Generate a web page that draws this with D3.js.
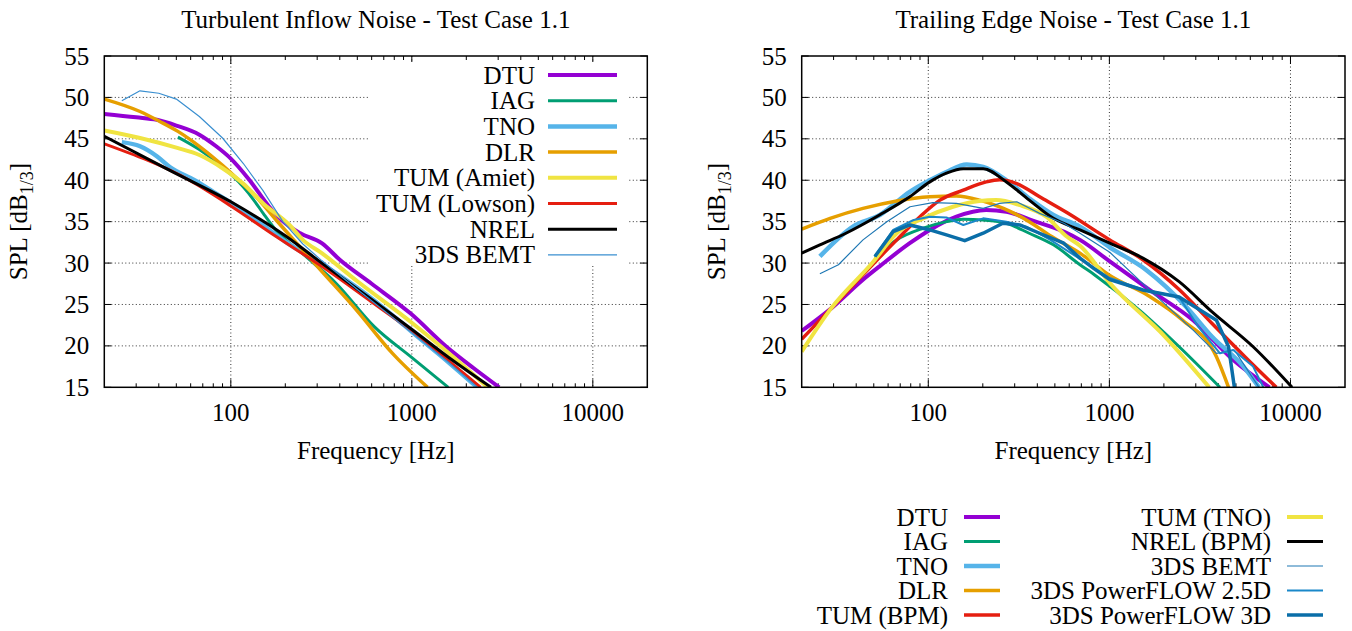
<!DOCTYPE html>
<html>
<head>
<meta charset="utf-8">
<script src="https://d3js.org/d3.v7.min.js"></script>
<style>
body { margin: 0; background: #fff; }
svg text { font-family: "Liberation Serif", "Times New Roman", serif; font-size: 25px; fill: #000; }
</style>
</head>
<body>
<svg id="chart" width="1352" height="631"></svg>
<script>
// ---- axis values ----
var yTicks = [15, 20, 25, 30, 35, 40, 45, 50, 55];
var xMajor = [100, 1000, 10000];

// ---- Turbulent inflow noise (left), [Hz, dB] ----
var tinDTU = [[20,48.0],[30,47.6],[39,47.3],[50,46.6],[67,45.5],[83,44.1],[99,42.7],[127,40.0],[163,36.8],[200,34.8],[242,33.6],[318,32.4],[400,30.4],[600,27.5],[986,23.9],[1554,19.9],[2200,17.3],[3040,15]];
var tinIAG = [[51,45.2],[67,43.7],[90,41.6],[117,39.2],[133,37.7],[151,36.0],[177,34.0],[250,31.1],[380,27.6],[622,22.3],[986,18.7],[1590,15]];
var tinTNO = [[25,44.6],[31.5,44.1],[39,42.9],[46,41.6],[63,40.0],[80,38.6],[100,37.3],[150,34.6],[200,32.6],[318,29.9],[500,27.0],[800,23.5],[1000,21.7],[1600,18.0],[2300,15]];
var tinDLR = [[20,49.8],[31.5,48.3],[40.5,47.1],[51,45.9],[67,44.1],[90,41.8],[106,40.4],[138,38.0],[178,35.2],[240,32.0],[318,29.0],[496,24.3],[782,19.1],[1222,15]];
var tinAmiet = [[20,46.0],[31.5,45.1],[50.6,43.9],[67,43.05],[90,41.45],[117,39.6],[151,37.2],[211,34.6],[250,32.8],[318,31.2],[500,27.8],[1000,22.8],[2000,17.3],[2620,15]];
var tinLowson = [[20,44.4],[59,40.0],[100,36.9],[178,33.2],[318,29.6],[600,25.3],[986,21.9],[1600,18.2],[2400,15]];
var tinNREL = [[20,45.3],[46,41.2],[100,37.4],[200,33.3],[318,30.0],[600,25.6],[986,22.1],[1600,18.6],[2740,15]];
var tinBEMT = [[25,49.6],[31.5,50.8],[40,50.5],[50,49.8],[67,47.7],[90,45.1],[117,42.05],[150,38.8],[194,35.0],[250,32.3],[318,30.3],[500,26.8],[1000,21.6],[1600,18.0],[2300,15]];

// ---- Trailing edge noise (right), [Hz, dB] ----
var tenDTU = [[20,21.8],[29,24.5],[43.6,28.0],[53.8,29.6],[79,32.4],[102,34.0],[143,35.6],[209,36.4],[270,36.2],[381,35.1],[560,33.8],[688,32.8],[1005,30.2],[1660,26.8],[2900,23.1],[4830,18.3],[7660,15]];
var tenIAG = [[50.7,30.6],[67,32.8],[93.7,34.2],[126,35.0],[156,35.3],[201,35.2],[270,34.8],[361,33.6],[491,32.2],[688,29.8],[826,28.6],[1470,24.3],[2430,19.9],[4080,15]];
var tenTNO = [[25.2,30.8],[38.4,34.4],[54,35.8],[79,38.6],[102,40.0],[126,41.0],[163,41.9],[201,41.6],[270,40.0],[361,37.8],[491,35.8],[688,34.4],[1005,31.9],[1590,29.2],[2660,24.7],[3690,21.1],[5500,17.5],[6700,15]];
var tenDLR = [[20,34.1],[28.7,35.4],[43.6,36.6],[67,37.5],[102,38.0],[143,38.1],[192,37.6],[260,36.6],[361,35.0],[480,33.2],[688,31.2],[1005,28.5],[1660,26.0],[2540,23.1],[3900,18.7],[4550,15]];
var tenBPM = [[20,20.8],[29,24.5],[43.6,28.6],[50.7,30.1],[67,32.8],[90,35.6],[116,37.6],[156,38.8],[209,39.8],[248,40.05],[308,39.6],[412,38.0],[582,36.1],[1005,32.8],[1531,30.4],[2427,26.8],[3690,22.7],[5600,18.7],[8350,15]];
var tenTUMTNO = [[20,19.3],[29,24.5],[49,30.0],[67,33.6],[93.7,35.4],[137,36.8],[192,37.5],[237,37.6],[320,37.0],[448,35.6],[582,33.2],[688,32.1],[1005,27.6],[2030,21.1],[3560,15]];
var tenNREL = [[20,31.2],[25.2,32.2],[35.1,33.6],[53.8,35.8],[79,38.0],[102,39.8],[126,40.85],[156,41.4],[201,41.4],[270,39.8],[361,37.6],[491,35.4],[688,34.0],[1005,32.4],[1531,30.6],[2427,27.75],[3690,24.1],[6220,19.9],[10200,15]];
var tenBEMT = [[25.2,28.7],[31.9,29.8],[43.6,32.8],[59,35.0],[79.3,36.8],[106,37.3],[143,37.2],[201,36.6],[248,37.2],[308,37.4],[412,36.0],[560,34.8],[688,33.6],[1005,31.3],[1660,26.8],[2900,21.9],[3900,19.1],[4900,19.5],[6700,15]];
var tenPF25 = [[50.7,30.8],[64,34.0],[83,35.2],[102,35.6],[126,35.5],[156,34.6],[201,35.4],[270,35.0],[348,34.4],[472,32.8],[688,30.5],[1005,28.2],[1531,26.8],[2427,25.9],[3100,22.3],[4080,19.1],[4830,19.5],[6220,17.5],[7080,15]];
var tenPF3D = [[50.7,30.8],[64,33.8],[79.3,34.6],[102,34.0],[126,33.4],[159,32.7],[201,33.6],[258,34.8],[320,34.6],[412,33.6],[560,32.4],[688,30.6],[826,29.3],[1005,28.0],[1531,26.75],[2427,25.9],[3900,23.1],[4550,19.9],[4900,15]];

// smooth: model curves drawn with a monotone spline, 3DS data as straight segments
var tinSeries = [
  {name: "DTU", data: tinDTU, color: "#9400d3", w: 4, smooth: true},
  {name: "IAG", data: tinIAG, color: "#009e73", w: 3, smooth: true},
  {name: "TNO", data: tinTNO, color: "#56b4e9", w: 4.5, smooth: true},
  {name: "DLR", data: tinDLR, color: "#e69f00", w: 3.5, smooth: true},
  {name: "TUM (Amiet)", data: tinAmiet, color: "#f0e442", w: 4, smooth: true},
  {name: "TUM (Lowson)", data: tinLowson, color: "#e51e10", w: 3, smooth: true},
  {name: "NREL", data: tinNREL, color: "#000000", w: 3, smooth: true},
  {name: "3DS BEMT", data: tinBEMT, color: "#3a8fd0", w: 1.2, smooth: false}
];
var tenSeries = [
  {name: "DTU", data: tenDTU, color: "#9400d3", w: 4, smooth: true},
  {name: "IAG", data: tenIAG, color: "#009e73", w: 3, smooth: true},
  {name: "TNO", data: tenTNO, color: "#56b4e9", w: 4.5, smooth: true},
  {name: "DLR", data: tenDLR, color: "#e69f00", w: 3.5, smooth: true},
  {name: "TUM (BPM)", data: tenBPM, color: "#e51e10", w: 3.5, smooth: true},
  {name: "TUM (TNO)", data: tenTUMTNO, color: "#f0e442", w: 4, smooth: true},
  {name: "NREL (BPM)", data: tenNREL, color: "#000000", w: 3, smooth: true},
  {name: "3DS BEMT", data: tenBEMT, color: "#1f78b4", w: 1.2, smooth: false},
  {name: "3DS PowerFLOW 2.5D", data: tenPF25, color: "#1a88c9", w: 2, smooth: false},
  {name: "3DS PowerFLOW 3D", data: tenPF3D, color: "#0a6ea8", w: 3.5, smooth: false}
];

var svg = d3.select("#chart");
var plotTop = 56, plotBottom = 387.3;

var minors = [];
[10, 100, 1000, 10000].forEach(function(d) {
  for (var m = 2; m <= 9; m++) {
    var v = d * m;
    if (v > 20 && v < 20000 && xMajor.indexOf(v) < 0) minors.push(v);
  }
});

function panel(id, x0, x1, title, series) {
  var x = d3.scaleLog().domain([20, 20000]).range([x0, x1]);
  var y = d3.scaleLinear().domain([15, 55]).range([plotBottom, plotTop]);
  var g = svg.append("g");

  g.append("clipPath").attr("id", "clip" + id)
    .append("rect").attr("x", x0).attr("y", plotTop).attr("width", x1 - x0).attr("height", plotBottom - plotTop);

  // grid
  g.selectAll(".gy").data(yTicks.slice(1, -1)).enter().append("line")
    .attr("x1", x0).attr("x2", x1).attr("y1", y).attr("y2", y)
    .attr("stroke", "#333").attr("stroke-width", 1).attr("stroke-dasharray", "1,2.5");
  g.selectAll(".gx").data(xMajor).enter().append("line")
    .attr("x1", x).attr("x2", x).attr("y1", plotTop).attr("y2", plotBottom)
    .attr("stroke", "#333").attr("stroke-width", 1).attr("stroke-dasharray", "1,2.5");

  // ticks
  g.selectAll(".ty").data(yTicks).enter().append("path")
    .attr("d", function(d) { return "M" + x0 + "," + y(d) + "h7M" + x1 + "," + y(d) + "h-7"; })
    .attr("stroke", "#000");
  g.selectAll(".tx").data(xMajor).enter().append("path")
    .attr("d", function(d) { return "M" + x(d) + "," + plotBottom + "v-8M" + x(d) + "," + plotTop + "v8"; })
    .attr("stroke", "#000");
  g.selectAll(".tm").data(minors).enter().append("path")
    .attr("d", function(d) { return "M" + x(d) + "," + plotBottom + "v-4M" + x(d) + "," + plotTop + "v4"; })
    .attr("stroke", "#000");

  // tick labels
  g.selectAll(".ly").data(yTicks).enter().append("text")
    .attr("x", x0 - 15).attr("y", function(d) { return y(d) + 8.5; })
    .attr("text-anchor", "end").text(function(d) { return d; });
  g.selectAll(".lx").data(xMajor).enter().append("text")
    .attr("x", x).attr("y", 421).attr("text-anchor", "middle").text(function(d) { return d; });

  // labels
  var cx = (x0 + x1) / 2;
  g.append("text").attr("x", cx).attr("y", 28).attr("text-anchor", "middle").text(title);
  g.append("text").attr("x", cx).attr("y", 459).attr("text-anchor", "middle").text("Frequency [Hz]");
  var yl = g.append("text").attr("transform", "translate(" + (x0 - 77) + "," + ((plotTop + plotBottom) / 2) + ") rotate(-90)")
    .attr("text-anchor", "middle");
  yl.append("tspan").text("SPL [dB");
  yl.append("tspan").attr("dy", 6).style("font-size", "18px").text("1/3");
  yl.append("tspan").attr("dy", -6).text("]");

  // curves
  var smoothLine = d3.line().curve(d3.curveMonotoneX)
    .x(function(d) { return x(d[0]); }).y(function(d) { return y(d[1]); });
  var rawLine = d3.line().x(function(d) { return x(d[0]); }).y(function(d) { return y(d[1]); });
  g.append("g").attr("clip-path", "url(#clip" + id + ")")
    .selectAll("path").data(series).enter().append("path")
    .attr("d", function(s) { return s.smooth ? smoothLine(s.data) : rawLine(s.data); })
    .attr("fill", "none")
    .attr("stroke", function(s) { return s.color; })
    .attr("stroke-width", function(s) { return s.w; })
    .attr("stroke-linejoin", "round");

  // frame
  g.append("rect").attr("x", x0).attr("y", plotTop).attr("width", x1 - x0).attr("height", plotBottom - plotTop)
    .attr("fill", "none").attr("stroke", "#000").attr("stroke-width", 1.5);
  return g;
}

var leftPanel = panel("L", 104.3, 647.3, "Turbulent Inflow Noise - Test Case 1.1", tinSeries);
var rightPanel = panel("R", 801.7, 1345, "Trailing Edge Noise - Test Case 1.1", tenSeries);

// left legend (opaque key)
leftPanel.append("rect").attr("x", 370).attr("y", 62).attr("width", 258).attr("height", 203).attr("fill", "#fff");
var lk = leftPanel.selectAll(".key").data(tinSeries).enter().append("g")
  .attr("transform", function(d, i) { return "translate(0," + (75 + 25.7 * i) + ")"; });
lk.append("text").attr("x", 535).attr("y", 8.5).attr("text-anchor", "end").text(function(d) { return d.name; });
lk.append("line").attr("x1", 548).attr("x2", 617).attr("y1", 0).attr("y2", 0)
  .attr("stroke", function(d) { return d.color; }).attr("stroke-width", function(d) { return d.w; });

// right legend below the plot, two columns
var rk = rightPanel.selectAll(".key").data(tenSeries).enter().append("g")
  .attr("transform", function(d, i) {
    var col = i < 5 ? 0 : 1, row = i % 5;
    return "translate(" + (col * 323) + "," + (517 + 24.5 * row) + ")";
  });
rk.append("text").attr("x", 948).attr("y", 8.5).attr("text-anchor", "end").text(function(d) { return d.name; });
rk.append("line").attr("x1", 964).attr("x2", 1000).attr("y1", 0).attr("y2", 0)
  .attr("stroke", function(d) { return d.color; }).attr("stroke-width", function(d) { return d.w; });
</script>
</body>
</html>
